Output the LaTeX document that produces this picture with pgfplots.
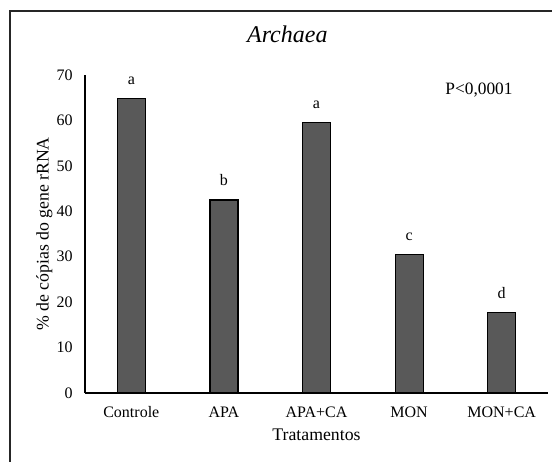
\documentclass[border=0pt]{standalone}
\usepackage{pgfplots}
\pgfplotsset{compat=1.18}
\usepackage{pgfplotstable}
\usepackage{fontspec}
\setmainfont{Liberation Serif}
\definecolor{barfill}{RGB}{89,89,89}
\pgfplotstableread{
x y lab
0 64.8 a
1 42.5 b
2 59.5 a
3 30.5 c
4 17.8 d
}\datatab
\begin{document}
\begin{tikzpicture}
\useasboundingbox (0,0) rectangle (414pt,345.75pt);
\draw[line width=1.1pt, black!85] (7.5pt,-5pt) -- (7.5pt,337.5pt) -- (420pt,337.5pt);
\begin{axis}[
  at={(63.75pt,51pt)}, anchor=south west,
  scale only axis, width=347.25pt, height=238.5pt,
  xmin=-0.5, xmax=4.5, ymin=0, ymax=70,
  ytick={0,10,...,70},
  xtick=data, xticklabels={Controle,APA,APA+CA,MON,MON+CA},
  axis x line*=bottom, axis y line*=left,
  axis line style={line width=1pt, -},
  major tick length=0pt,
  tick label style={font=\fontsize{12}{14}\selectfont},
  yticklabel style={inner sep=0pt, xshift=-9pt},
  xticklabel style={inner sep=0pt, yshift=-10pt},
  /pgf/number format/assume math mode=true,
  xlabel={Tratamentos}, ylabel={\% de cópias do gene rRNA},
  label style={font=\fontsize{13.3}{16}\selectfont},
  xlabel style={at={(axis description cs:0.5,-0.132)}, anchor=center},
  ylabel style={at={(axis description cs:-0.088,0.5)}, anchor=center},
  title={Archaea},
  title style={at={(axis description cs:0.437,1.104)}, anchor=center, font=\itshape\fontsize{18}{20}\selectfont},
  clip=false,
]
\addplot[ybar, bar width=21pt, fill=barfill, draw=black, line width=0.9pt,
  nodes near coords, point meta=explicit symbolic,
  nodes near coords style={font=\fontsize{12}{14}\selectfont, anchor=south, inner sep=0pt, yshift=10pt, text=black}]
  table[x=x, y=y, meta=lab] {\datatab};
\node[font=\fontsize{13}{15}\selectfont] at (axis description cs:0.851,0.953) {P<0,0001};
\end{axis}
\end{tikzpicture}
\end{document}
